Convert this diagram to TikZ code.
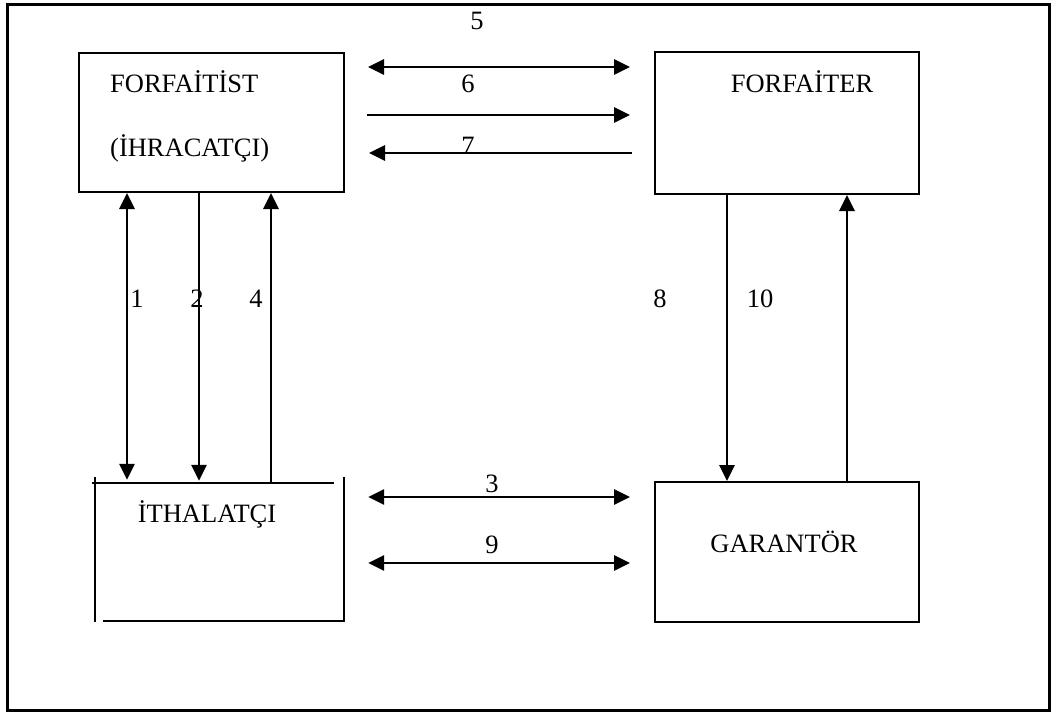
\documentclass[tikz,border=0pt]{standalone}
\usepackage{fontspec}
\setmainfont{Liberation Serif}
\usetikzlibrary{arrows.meta}
\begin{document}
\begin{tikzpicture}[x=1pt,y=-1pt,
  box/.style={draw, line width=2pt, inner sep=0pt},
  lbl/.style={font=\fontsize{26.5}{30}\selectfont, inner sep=0pt, anchor=base},
  tip/.tip={Triangle[length=16pt,width=15pt]},
  arr/.style={line width=2.8pt, -tip},
  dbl/.style={line width=2.8pt, tip-tip},
  edge/.style={line width=2pt}]
\useasboundingbox (0,0) rectangle (1056,713);
\draw[line width=3pt] (7.5,4.5) rectangle (1049,710.5);
% boxes
\node[box, minimum width=265pt, minimum height=139pt] (fst) at (211.5,122.5) {};
\node[box, minimum width=264pt, minimum height=142pt] (fer) at (787,123) {};
\node[box, minimum width=264pt, minimum height=140pt] (gar) at (787,552) {};
\node[inner sep=0pt, minimum width=249pt, minimum height=138pt] (ith) at (219.5,552) {};
\draw[edge] (92,483) -- (334,483);
\draw[edge] (95,477) -- (95,622);
\draw[edge] (344,477) -- (344,621);
\draw[edge] (103,621) -- (345,621);
% box texts
\node[lbl, anchor=base west] (t1) at (110,92) {FORFAİTİST};
\node[lbl, anchor=base west] (t2) at (110,156) {(İHRACATÇI)};
\node[lbl] (t3) at (802,92) {FORFAİTER};
\node[lbl] (t4) at (784,552) {GARANTÖR};
\node[lbl] (t5) at (207,522) {İTHALATÇI};
% horizontal connectors
\draw[dbl, shorten <=23pt, shorten >=24pt] (fst.east |- 0,67) -- (fer.west |- 0,67);
\draw[arr, shorten <=22pt, shorten >=24pt] (fst.east |- 0,115) -- (fer.west |- 0,115);
\draw[arr, shorten <=22pt, shorten >=24pt] (fer.west |- 0,153) -- (fst.east |- 0,153);
\draw[dbl, shorten <=24pt, shorten >=24pt] (ith.east |- 0,497) -- (gar.west |- 0,497);
\draw[dbl, shorten <=24pt, shorten >=24pt] (ith.east |- 0,563) -- (gar.west |- 0,563);
% vertical connectors
\draw[dbl, shorten >=3pt] (fst.south -| 127,0) -- (ith.north -| 127,0);
\draw[arr, shorten >=2pt] (fst.south -| 199,0) -- (ith.north -| 199,0);
\draw[arr] (ith.north -| 271,0) -- (fst.south -| 271,0);
\draw[arr] (fer.south -| 727,0) -- (gar.north -| 727,0);
\draw[arr] (gar.north -| 847,0) -- (fer.south -| 847,0);
% numbers
\node[lbl] (n5) at (477,29) {5};
\node[lbl] (n6) at (468,92) {6};
\node[lbl] (n7) at (468,154) {7};
\node[lbl] (n3) at (492,492) {3};
\node[lbl] (n9) at (492,553) {9};
\node[lbl] (n1) at (137,307) {1};
\node[lbl] (n2) at (197,307) {2};
\node[lbl] (n4) at (256,307) {4};
\node[lbl] (n8) at (660,307) {8};
\node[lbl] (n10) at (760,307) {10};
\end{tikzpicture}
\end{document}
